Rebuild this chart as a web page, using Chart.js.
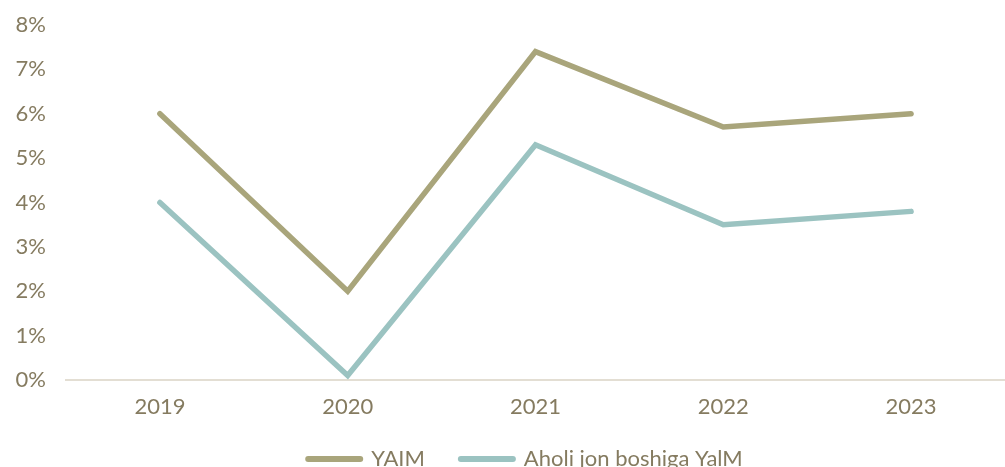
<!DOCTYPE html>
<html>
<head>
<meta charset="utf-8">
<script src="https://cdn.jsdelivr.net/npm/chart.js@4.4.1/dist/chart.umd.min.js"></script>
<style>
html,body{margin:0;padding:0;overflow:hidden;background:#fff;}
#wrap{position:relative;width:1005px;height:490px;}
</style>
</head>
<body>
<div id="wrap"><canvas id="c"></canvas></div>
<script>
const categories = ['2019', '2020', '2021', '2022', '2023'];
const yaimValues = [6.0, 2.0, 7.4, 5.7, 6.0];
const perCapitaValues = [4.0, 0.1, 5.3, 3.5, 3.8];
const seriesNames = ['YAIM', 'Aholi jon boshiga YalM'];
const yTickValues = [0, 1, 2, 3, 4, 5, 6, 7, 8];

const textColor = '#857B60';
const font = {family: 'Lato, "Open Sans", sans-serif', size: 22};

const legendShift = {
  id: 'legendShift',
  afterLayout(chart) { if (chart.legend) { chart.legend.left -= 20; chart.legend.top -= 10; } }
};

new Chart(document.getElementById('c'), {
  type: 'line',
  data: {
    labels: categories,
    datasets: [
      {label: seriesNames[0], data: yaimValues, borderColor: '#A9A57B', backgroundColor: '#A9A57B',
       borderWidth: 5.5, pointRadius: 0, tension: 0, borderJoinStyle: 'miter', borderCapStyle: 'round'},
      {label: seriesNames[1], data: perCapitaValues, borderColor: '#9BC3C1', backgroundColor: '#9BC3C1',
       borderWidth: 5.5, pointRadius: 0, tension: 0, borderJoinStyle: 'miter', borderCapStyle: 'round'}
    ]
  },
  plugins: [legendShift],
  options: {
    responsive: true,
    maintainAspectRatio: false,
    animation: false,
    layout: {padding: {top: 0, left: 0, right: 0, bottom: 0}},
    plugins: {
      tooltip: {enabled: false},
      legend: {
        position: 'bottom',
        fullSize: false,
        labels: {
          color: textColor, font: font, usePointStyle: true, pointStyle: 'line',
          pointStyleWidth: 52, boxHeight: 6, padding: 36,
          generateLabels: (chart) => Chart.defaults.plugins.legend.labels.generateLabels(chart).map(it => {
            it.lineWidth = 6; it.lineCap = 'round'; it.pointStyle = 'line'; return it;
          })
        }
      }
    },
    scales: {
      x: {
        offset: true,
        grid: {display: false, drawTicks: false},
        border: {display: true, color: '#E3DED3', width: 2},
        ticks: {color: textColor, font: font, padding: 14},
        afterFit: (s) => { s.height = 42; }
      },
      y: {
        min: 0, max: 8,
        afterBuildTicks: (s) => { s.ticks = yTickValues.map(v => ({value: v})); },
        grid: {display: false, drawTicks: false},
        border: {display: false},
        ticks: {color: textColor, font: font, padding: 20, callback: (v) => v + '%'},
        afterFit: (s) => { s.width = 66; s.paddingTop = 25; }
      }
    }
  }
});
</script>
</body>
</html>
